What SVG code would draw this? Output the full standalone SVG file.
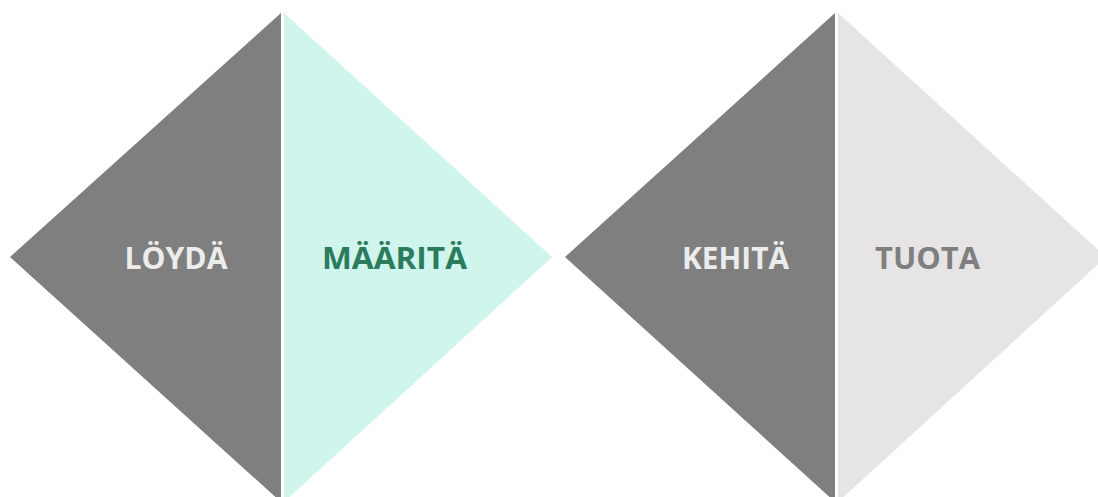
<svg xmlns="http://www.w3.org/2000/svg" width="1098" height="497" viewBox="0 0 1098 497">
<style>
.lbl{font-family:"Open Sans","Liberation Sans",sans-serif;font-weight:bold;font-size:30px;text-anchor:middle}
.dark{fill:#7f7f7f}
.mint{fill:#cff5ec}
.light{fill:#e6e4e5}
</style>
<rect width="1098" height="497" fill="#ffffff"/>
<g id="loyda">
<polygon class="dark" points="281,13 10,257 281,502"/>
<text class="lbl" x="176" y="269" fill="#ececec" textLength="103" lengthAdjust="spacingAndGlyphs">LÖYDÄ</text>
</g>
<g id="maarita">
<polygon class="mint" points="284,13 552,257 284,502"/>
<text class="lbl" x="394.5" y="269" fill="#2b7b5d" textLength="145" lengthAdjust="spacingAndGlyphs">MÄÄRITÄ</text>
</g>
<g id="kehita">
<polygon class="dark" points="835,13 565,257 835,502"/>
<text class="lbl" x="735.5" y="269" fill="#ececec" textLength="107" lengthAdjust="spacingAndGlyphs">KEHITÄ</text>
</g>
<g id="tuota">
<polygon class="light" points="838,13 1106,257 838,502"/>
<text class="lbl" x="927.5" y="269" fill="#7f7f7f" textLength="105" lengthAdjust="spacingAndGlyphs">TUOTA</text>
</g>
<g id="connectors"></g>
</svg>
